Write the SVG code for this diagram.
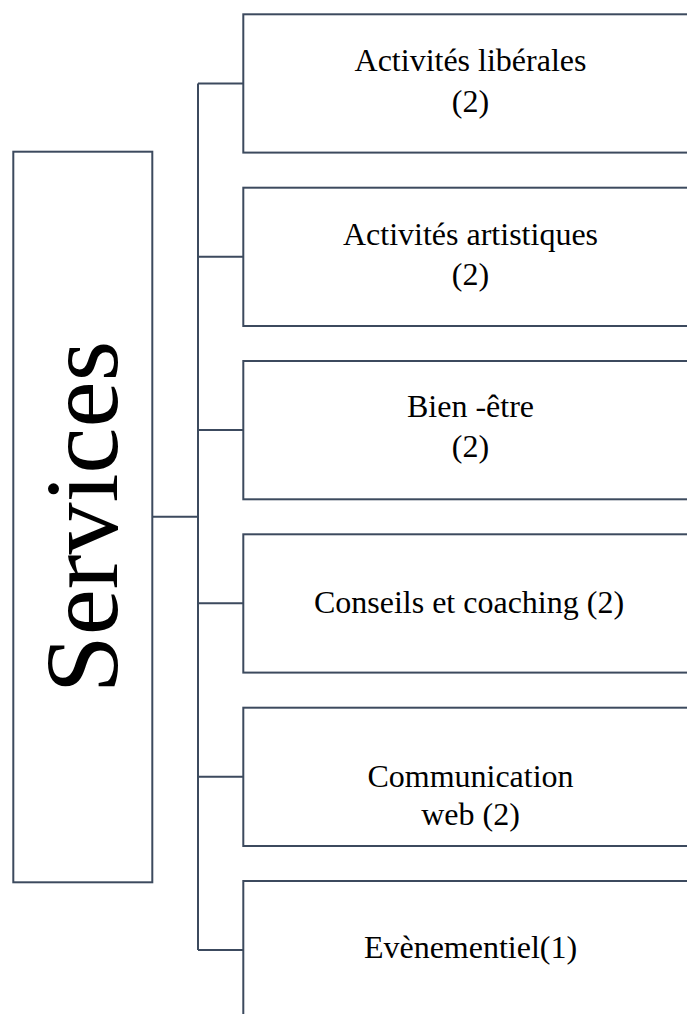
<svg xmlns="http://www.w3.org/2000/svg" width="687" height="1014" viewBox="0 0 687 1014">
<style>
.box{fill:#fff;stroke:#3c4a5e;stroke-width:2}
.conn{fill:none;stroke:#3c4a5e;stroke-width:2}
.t{font-family:"Liberation Serif","Times New Roman",serif;font-size:32px;fill:#000;text-anchor:middle}
</style>
<rect width="687" height="1014" fill="#fff"/>
<g id="connectors">
<path class="conn" d="M152.3 516.7H198M198 83.5V950M198 83.5H243.3M198 256.8H243.3M198 430H243.3M198 603.3H243.3M198 776.7H243.3M198 950H243.3"/>
</g>
<g id="services">
<rect class="box" x="13.3" y="151.7" width="139" height="730.6"/>
<text class="t" style="font-size:104px" transform="translate(117,517) rotate(-90)">Services</text>
</g>
<g id="n1">
<rect class="box" x="243.3" y="14.3" width="460" height="138.3"/>
<text class="t" x="470.5" y="71">Activités libérales</text>
<text class="t" x="470.5" y="111.5">(2)</text>
</g>
<g id="n2">
<rect class="box" x="243.3" y="187.7" width="460" height="138.3"/>
<text class="t" x="470.5" y="244.5">Activités artistiques</text>
<text class="t" x="470.5" y="285">(2)</text>
</g>
<g id="n3">
<rect class="box" x="243.3" y="361" width="460" height="138.3"/>
<text class="t" x="470.5" y="417">Bien -être</text>
<text class="t" x="470.5" y="457">(2)</text>
</g>
<g id="n4">
<rect class="box" x="243.3" y="534.3" width="460" height="138.3"/>
<text class="t" x="469" y="613">Conseils et coaching (2)</text>
</g>
<g id="n5">
<rect class="box" x="243.3" y="707.7" width="460" height="138.3"/>
<text class="t" x="470.5" y="787">Communication</text>
<text class="t" x="470.5" y="825">web (2)</text>
</g>
<g id="n6">
<rect class="box" x="243.3" y="881" width="460" height="160"/>
<text class="t" x="470.5" y="958">Evènementiel(1)</text>
</g>
</svg>
